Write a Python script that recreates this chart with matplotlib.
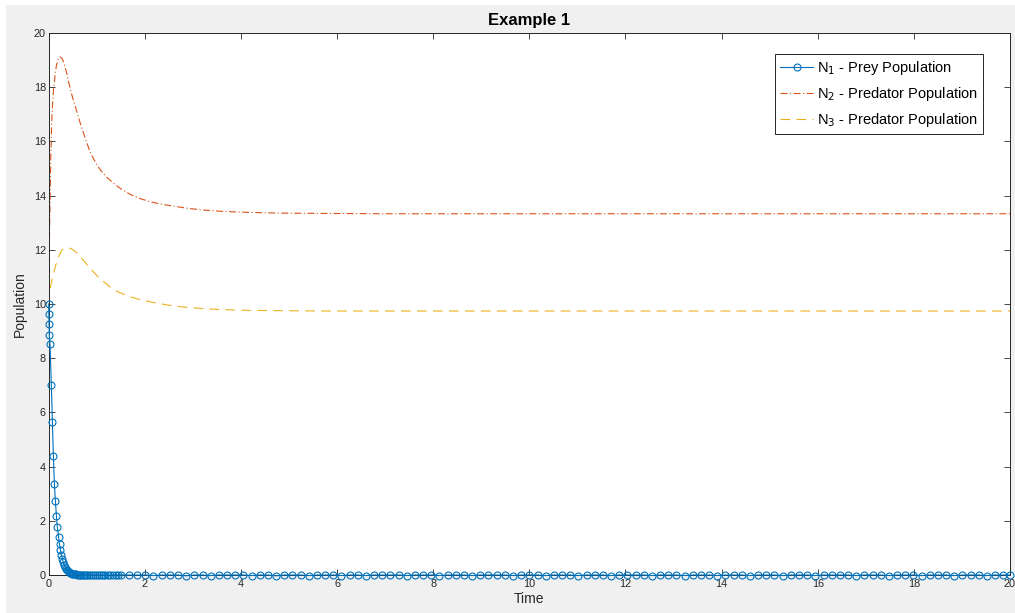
import matplotlib
matplotlib.use("Agg")
import matplotlib.pyplot as plt
from matplotlib.patches import Rectangle

plt.rcParams['font.family'] = ['Liberation Sans', 'DejaVu Sans']
plt.rcParams['lines.scale_dashes'] = False

# ---------------- data ----------------
# N1 - prey population (solver output times and values)
t_prey = [0.000, 0.004, 0.008, 0.012, 0.027, 0.055, 0.076, 0.097, 0.118, 0.139,
          0.160, 0.180, 0.205, 0.225, 0.245, 0.265, 0.285, 0.305, 0.325, 0.345,
          0.365, 0.385, 0.405, 0.425, 0.445, 0.465, 0.490, 0.515, 0.540, 0.565,
          0.590, 0.620, 0.650, 0.680, 0.710, 0.740, 0.770, 0.800, 0.840, 0.880,
          0.920, 0.960, 1.000, 1.040, 1.080, 1.130, 1.180, 1.230, 1.280, 1.330,
          1.390, 1.440,
          1.50, 1.67, 1.84, 2.01, 2.18, 2.35, 2.52, 2.69, 2.86, 3.03,
          3.20, 3.37, 3.54, 3.71, 3.88, 4.05, 4.22, 4.39, 4.56, 4.73,
          4.90, 5.07, 5.24, 5.41, 5.58, 5.75, 5.92, 6.09, 6.26, 6.43,
          6.60, 6.77, 6.94, 7.11, 7.28, 7.45, 7.62, 7.79, 7.96, 8.13,
          8.30, 8.47, 8.64, 8.81, 8.98, 9.15, 9.32, 9.49, 9.66, 9.83,
          10.00, 10.17, 10.34, 10.51, 10.68, 10.85, 11.02, 11.19, 11.36, 11.53,
          11.70, 11.87, 12.04, 12.21, 12.38, 12.55, 12.72, 12.89, 13.06, 13.23,
          13.40, 13.57, 13.74, 13.91, 14.08, 14.25, 14.42, 14.59, 14.76, 14.93,
          15.10, 15.27, 15.44, 15.61, 15.78, 15.95, 16.12, 16.29, 16.46, 16.63,
          16.80, 16.97, 17.14, 17.31, 17.48, 17.65, 17.82, 17.99, 18.16, 18.33,
          18.50, 18.67, 18.84, 19.01, 19.18, 19.35, 19.52, 19.69, 19.86, 20.00]
n1_prey = [10.00, 9.62, 9.25, 8.86, 8.51, 7.01, 5.63, 4.40, 3.37, 2.73,
           2.19, 1.76, 1.40, 1.13, 0.92, 0.74, 0.59, 0.47, 0.37, 0.29,
           0.23, 0.18, 0.14, 0.11, 0.085, 0.065, 0.050, 0.038, 0.029, 0.022,
           0.016, 0.012, 0.009, 0.007, 0.005, 0.004, 0.003, 0.002, 0.0015, 0.001,
           0.001, 0.0005, 0.0, 0.0, 0.0, 0.0, 0.0, 0.0, 0.0, 0.0,
           0.0, 0.0,
           0.0, 0.0, 0.0, 0.0, -0.02, 0.0, 0.0, 0.0, -0.03, 0.0,
           0.0, -0.02, 0.0, 0.0, 0.0, 0.0, -0.02, 0.0, 0.0, -0.03,
           0.0, 0.0, 0.0, -0.02, 0.0, 0.0, 0.0, -0.02, 0.0, 0.0,
           -0.02, 0.0, 0.0, 0.0, 0.0, -0.02, 0.0, 0.0, 0.0, -0.02,
           0.0, 0.0, 0.0, -0.02, 0.0, 0.0, 0.0, 0.0, -0.02, 0.0,
           0.0, 0.0, -0.02, 0.0, 0.0, 0.0, -0.02, 0.0, 0.0, 0.0,
           -0.02, 0.0, 0.0, 0.0, 0.0, -0.02, 0.0, 0.0, 0.0, -0.02,
           0.0, 0.0, 0.0, -0.02, 0.0, 0.0, 0.0, -0.02, 0.0, 0.0,
           0.0, -0.02, 0.0, 0.0, 0.0, -0.02, 0.0, 0.0, 0.0, 0.0,
           -0.02, 0.0, 0.0, 0.0, -0.02, 0.0, 0.0, 0.0, -0.02, 0.0,
           0.0, 0.0, -0.02, 0.0, 0.0, 0.0, -0.02, 0.0, 0.0, 0.0]

# N2 - predator population
t_pred2 = [0.0, 0.01, 0.02, 0.03, 0.045, 0.06, 0.08, 0.10, 0.13, 0.16,
           0.20, 0.24, 0.28, 0.32, 0.38, 0.44, 0.51, 0.58, 0.65, 0.72,
           0.79, 0.86, 0.96, 1.07, 1.20, 1.35, 1.50, 1.70, 1.90, 2.10,
           2.35, 2.60, 2.90, 3.20, 3.60, 4.00, 4.50, 5.00, 6.00, 7.00,
           8.00, 10.0, 12.0, 14.0, 16.0, 18.0, 20.0]
n2_pred = [10.0, 11.5, 12.9, 14.0, 15.5, 16.6, 17.4, 17.9, 18.4, 18.8,
           19.05, 19.12, 19.05, 18.88, 18.48, 18.00, 17.53, 17.13, 16.71, 16.33,
           15.97, 15.61, 15.27, 14.96, 14.69, 14.45, 14.25, 14.04, 13.89, 13.78,
           13.68, 13.61, 13.53, 13.47, 13.42, 13.39, 13.365, 13.35, 13.34, 13.33,
           13.33, 13.33, 13.33, 13.33, 13.33, 13.33, 13.33]

# N3 - predator population
t_pred3 = [0.0, 0.02, 0.05, 0.10, 0.15, 0.20, 0.27, 0.33, 0.38, 0.44,
           0.51, 0.60, 0.72, 0.85, 0.99, 1.13, 1.27, 1.45, 1.69, 1.90,
           2.11, 2.35, 2.59, 2.85, 3.14, 3.50, 4.00, 4.50, 5.00, 6.00,
           7.00, 8.00, 10.0, 12.0, 14.0, 16.0, 18.0, 20.0]
n3_pred = [10.0, 10.4, 10.75, 11.13, 11.45, 11.72, 11.98, 12.06, 12.08, 12.06,
           12.0, 11.86, 11.62, 11.34, 11.07, 10.84, 10.64, 10.44, 10.27, 10.16,
           10.08, 10.0, 9.93, 9.88, 9.84, 9.80, 9.77, 9.76, 9.75, 9.74,
           9.74, 9.74, 9.74, 9.74, 9.74, 9.74, 9.74, 9.74]

ticks = [0, 2, 4, 6, 8, 10, 12, 14, 16, 18, 20]
labels = ["N$_1$ - Prey Population", "N$_2$ - Predator Population",
          "N$_3$ - Predator Population"]

# ---------------- figure ----------------
W, H = 1015, 613
fig = plt.figure(figsize=(W / 100, H / 100), dpi=100, facecolor='white')
fig.patches.append(Rectangle((6 / W, 0), 1 - 6 / W, 1 - 5 / H,
                             transform=fig.transFigure, facecolor='#F0F0F0',
                             edgecolor='none', zorder=-10))

ax = fig.add_axes([48.7 / W, 38 / H, (1010 - 48.7) / W, 542 / H])
ax.set_facecolor('white')

dark = '#262626'
ax.plot(t_prey, n1_prey, color='#0072BD', lw=0.8, marker='o', ms=5,
        mfc='none', mec='#0072BD', mew=0.8, clip_on=False, label=labels[0],
        zorder=3)
ax.plot(t_pred2, n2_pred, color='#D95319', lw=0.8, dashes=(5, 1.8, 0.8, 1.8),
        label=labels[1])
ax.plot(t_pred3, n3_pred, color='#EDB120', lw=0.8, dashes=(7, 4.5),
        label=labels[2])

ax.set_xlim(0, 20)
ax.set_ylim(0, 20)
ax.set_xticks(ticks)
ax.set_yticks(ticks)
ax.tick_params(direction='in', top=True, right=True, length=4, width=0.6,
               color=dark, labelcolor=dark, labelsize=7.8)
ax.tick_params(axis='y', pad=2)
ax.tick_params(axis='x', pad=3)
for s in ax.spines.values():
    s.set_color(dark)
    s.set_linewidth(0.7)

ax.set_title("Example 1", fontsize=12, fontweight='bold', color='black', pad=6)
ax.set_xlabel("Time", fontsize=10, color=dark, labelpad=2)
ax.set_ylabel("Population", fontsize=10, color=dark, labelpad=5)

leg = ax.legend(loc='upper right', bbox_to_anchor=(0.972, 0.961),
                borderaxespad=0, fontsize=10.5, frameon=True, fancybox=False,
                edgecolor=dark, framealpha=1, handlelength=2.2,
                handletextpad=0.3, labelspacing=0.55, borderpad=0.35,
                numpoints=1)
leg.get_frame().set_linewidth(0.7)

fig.savefig("out.png", dpi=100, facecolor=fig.get_facecolor())
